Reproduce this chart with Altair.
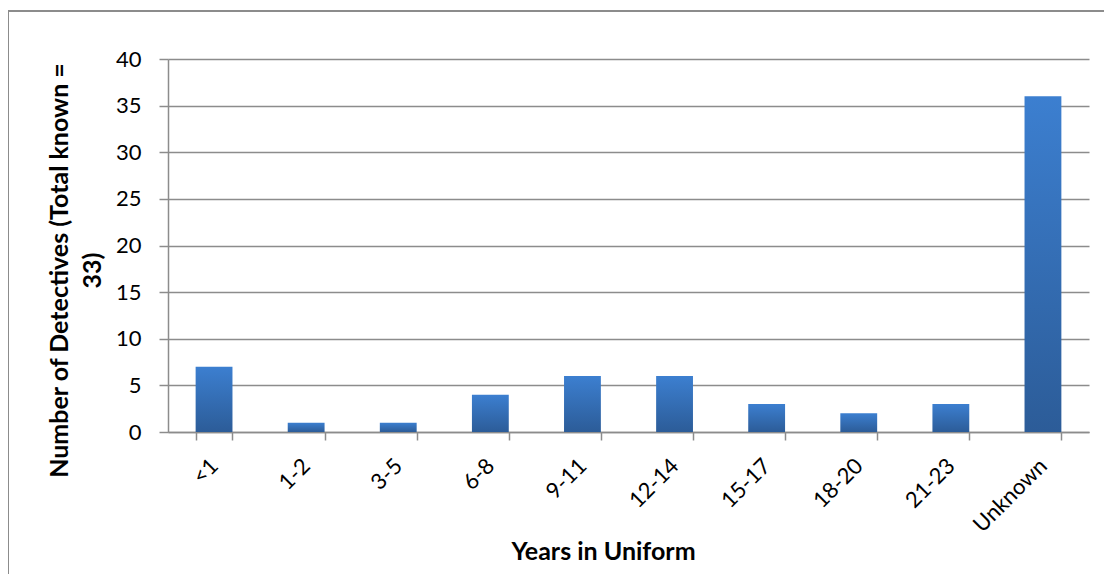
import altair as alt
import pandas as pd

categories = ["<1", "1-2", "3-5", "6-8", "9-11", "12-14", "15-17", "18-20", "21-23", "Unknown"]
counts = [7, 1, 1, 4, 6, 6, 3, 2, 3, 36]

df = pd.DataFrame({"years": categories, "count": counts})

FONT = "Lato"
GRAY = "#8c8c8c"

gradient = alt.Gradient(
    gradient="linear",
    stops=[alt.GradientStop(color="#3c7fd0", offset=0),
           alt.GradientStop(color="#2c5c98", offset=1)],
    x1=0, x2=0, y1=0, y2=1,
)

bars = alt.Chart(df).mark_bar(color=gradient).encode(
    x=alt.X("years:N", sort=categories,
            scale=alt.Scale(paddingInner=0.6, paddingOuter=0.3),
            axis=alt.Axis(
                title="Years in Uniform",
                labelAngle=-45, labelAlign="right", labelBaseline="middle",
                labelFontSize=22, labelFont=FONT, labelColor="#000",
                labelPadding=22,
                tickBand="extent", tickSize=8, tickColor=GRAY, tickWidth=1.5,
                domainColor=GRAY, domainWidth=1.5,
                titleFont=FONT, titleFontSize=25, titleFontWeight="bold",
                titleColor="#000", titleX=435, titleY=119,
                titleBaseline="middle", titleAlign="center",
            )),
    y=alt.Y("count:Q",
            scale=alt.Scale(domain=[0, 40], nice=False),
            axis=alt.Axis(
                title=["Number of Detectives (Total known =", "33)"],
                values=[0, 5, 10, 15, 20, 25, 30, 35, 40],
                labelFontSize=22, labelFont=FONT, labelColor="#000",
                labelPadding=18,
                tickSize=9, tickColor=GRAY, tickWidth=1.5,
                domainColor=GRAY, domainWidth=1.5,
                grid=True, gridColor=GRAY, gridWidth=1.5,
                titleFont=FONT, titleFontSize=25, titleFontWeight="bold",
                titleColor="#000", titleLineHeight=33,
                titleBaseline="top", titleAlign="center",
                titleX=-121, titleY=211, titleAngle=270,
            )),
)

border_top = alt.Chart(df).mark_rule(color=GRAY, strokeWidth=2).encode(
    x=alt.value(-160), x2=alt.value(960), y=alt.value(-48)
)
border_left = alt.Chart(df).mark_rule(color=GRAY, strokeWidth=2).encode(
    x=alt.value(-160), y=alt.value(-48), y2=alt.value(560)
)

chart = alt.layer(border_top, border_left, bars).properties(
    width=921, height=373,
    autosize=alt.AutoSizeParams(type="none"),
    padding={"left": 160, "top": 51, "right": 15, "bottom": 142},
).configure_view(stroke=None).configure_axis(gridCap="butt")

chart.save("out.html", embed_options={"renderer": "svg", "actions": False})
